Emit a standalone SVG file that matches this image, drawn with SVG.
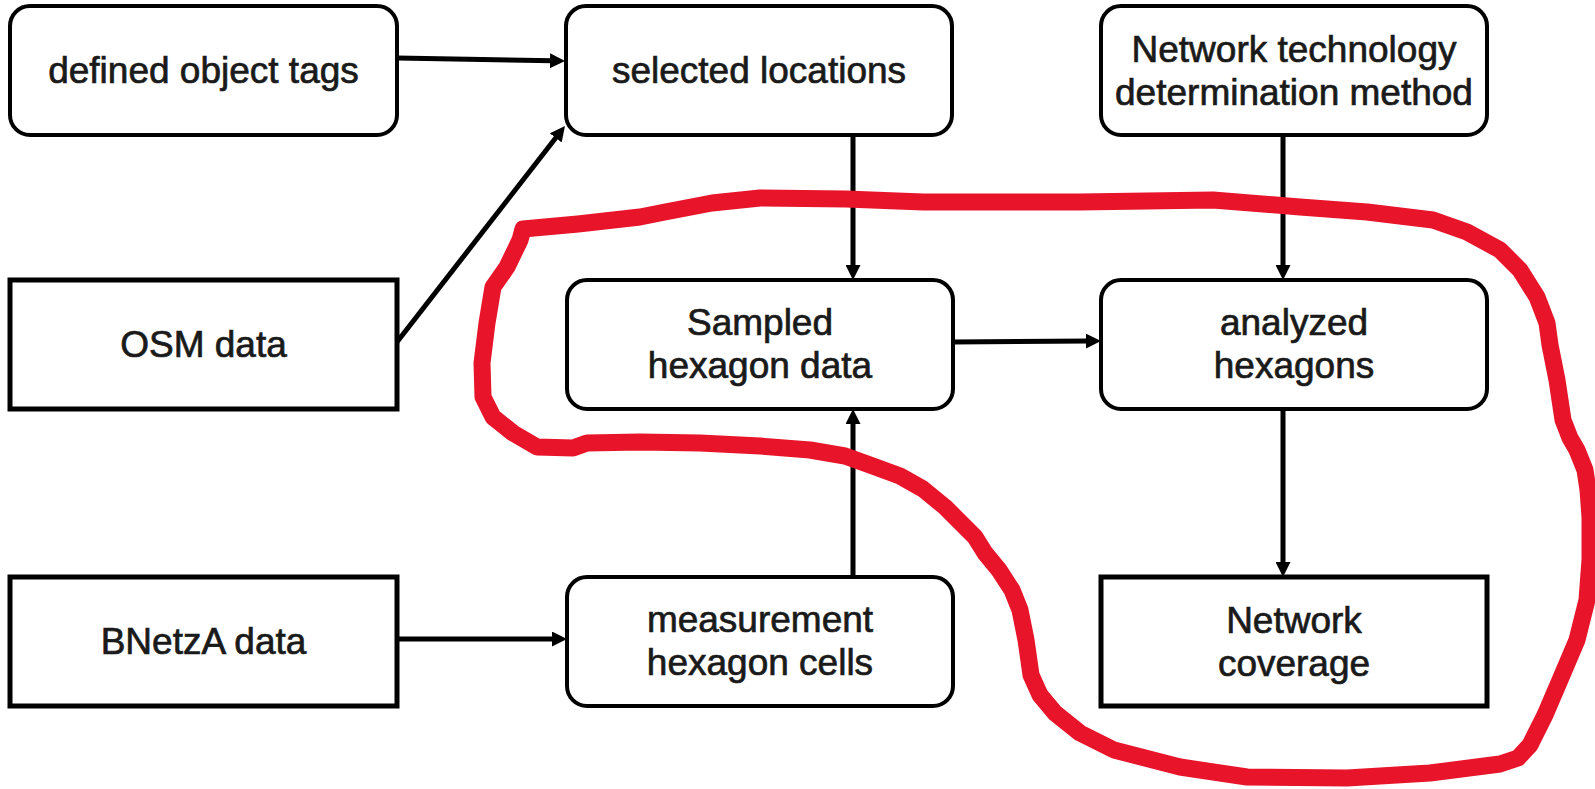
<svg xmlns="http://www.w3.org/2000/svg" width="1595" height="789" viewBox="0 0 1595 789">
  <style>
    .box { fill: #ffffff; stroke: #000000; stroke-width: 4; }
    .sq { fill: #ffffff; stroke: #000000; stroke-width: 5; }
    .lbl { font-family: "Liberation Sans", Arial, Helvetica, sans-serif; font-size: 37px; fill: #1a1a1a; stroke: #1a1a1a; stroke-width: 0.7; text-anchor: middle; }
    .edge { stroke: #000000; stroke-width: 5; fill: none; marker-end: url(#arrow); }
    .loop { fill: none; stroke: #e8142a; stroke-width: 17; stroke-linejoin: round; stroke-linecap: round; }
  </style>
  <defs>
    <marker id="arrow" viewBox="0 0 15 15" markerWidth="15" markerHeight="15" refX="3" refY="7.5" orient="auto" markerUnits="userSpaceOnUse">
      <path d="M0,0 L15,7.5 L0,15 z" fill="#000000"/>
    </marker>
  </defs>
  <rect width="1595" height="789" fill="#ffffff"/>

  <!-- nodes -->
  <g id="node-tags">
    <rect class="box" x="10" y="6" width="387" height="129" rx="20"/>
    <text class="lbl" x="203.5" y="83">defined object tags</text>
  </g>
  <g id="node-locations">
    <rect class="box" x="566" y="6" width="386" height="129" rx="20"/>
    <text class="lbl" x="759" y="83">selected locations</text>
  </g>
  <g id="node-method">
    <rect class="box" x="1101" y="6" width="386" height="129" rx="20"/>
    <text class="lbl" x="1294" y="62">Network technology</text>
    <text class="lbl" x="1294" y="105">determination method</text>
  </g>
  <g id="node-osm">
    <rect class="sq" x="10" y="280" width="387" height="129"/>
    <text class="lbl" x="203.5" y="357">OSM data</text>
  </g>
  <g id="node-sampled">
    <rect class="box" x="567" y="280" width="386" height="129" rx="20"/>
    <text class="lbl" x="760" y="335">Sampled</text>
    <text class="lbl" x="760" y="378">hexagon data</text>
  </g>
  <g id="node-analyzed">
    <rect class="box" x="1101" y="280" width="386" height="129" rx="20"/>
    <text class="lbl" x="1294" y="335">analyzed</text>
    <text class="lbl" x="1294" y="378">hexagons</text>
  </g>
  <g id="node-bnetza">
    <rect class="sq" x="10" y="577" width="387" height="129"/>
    <text class="lbl" x="203.5" y="654">BNetzA data</text>
  </g>
  <g id="node-measurement">
    <rect class="box" x="567" y="577" width="386" height="129" rx="20"/>
    <text class="lbl" x="760" y="632">measurement</text>
    <text class="lbl" x="760" y="675">hexagon cells</text>
  </g>
  <g id="node-coverage">
    <rect class="sq" x="1101" y="577" width="386" height="129"/>
    <text class="lbl" x="1294" y="633">Network</text>
    <text class="lbl" x="1294" y="676">coverage</text>
  </g>

  <!-- connectors -->
  <g id="connectors">
    <path class="edge" d="M397,58 L553,60.8"/>
    <path class="edge" d="M397,342 L557.6,135.5"/>
    <path class="edge" d="M853,135 L853,268"/>
    <path class="edge" d="M953,342 L1089,341.1"/>
    <path class="edge" d="M1283,135 L1283,268"/>
    <path class="edge" d="M853,577 L853,421"/>
    <path class="edge" d="M397,639 L555,639"/>
    <path class="edge" d="M1283,409 L1283,565"/>
  </g>

  <!-- hand-drawn highlight loop -->
  <g id="highlight">
    <path class="loop" d="M587,443 L640,442 L700,443 L760,446 L810,450 L845,456 L870,465 L900,476 L923,489 L945,507 L960,522 L975,537 L985,553 L999,570 L1012,590 L1020,610 L1026,640 L1031,675 L1040,695 L1055,713 L1080,733 L1114,750 L1180,767 L1247,777 L1347,778 L1430,773 L1500,764 L1518,758 L1530,745 L1545,715 L1560,680 L1577,640 L1587,600 L1590,560 L1590,517 L1588,490 L1585,470 L1577,450 L1570,438 L1563,420 L1557,380 L1550,345 L1547,323 L1537,297 L1520,270 L1500,250 L1467,232 L1433,220 L1367,212 L1300,207 L1213,200 L1080,202 L923,202 L846,199 L760,198 L712,203 L665,212 L640,217 L578,224 L523,229 L520,240 L507,267 L493,287 L487,323 L482,363 L483,397 L493,417 L513,433 L537,447 L573,448 L587,443"/>
  </g>
</svg>
